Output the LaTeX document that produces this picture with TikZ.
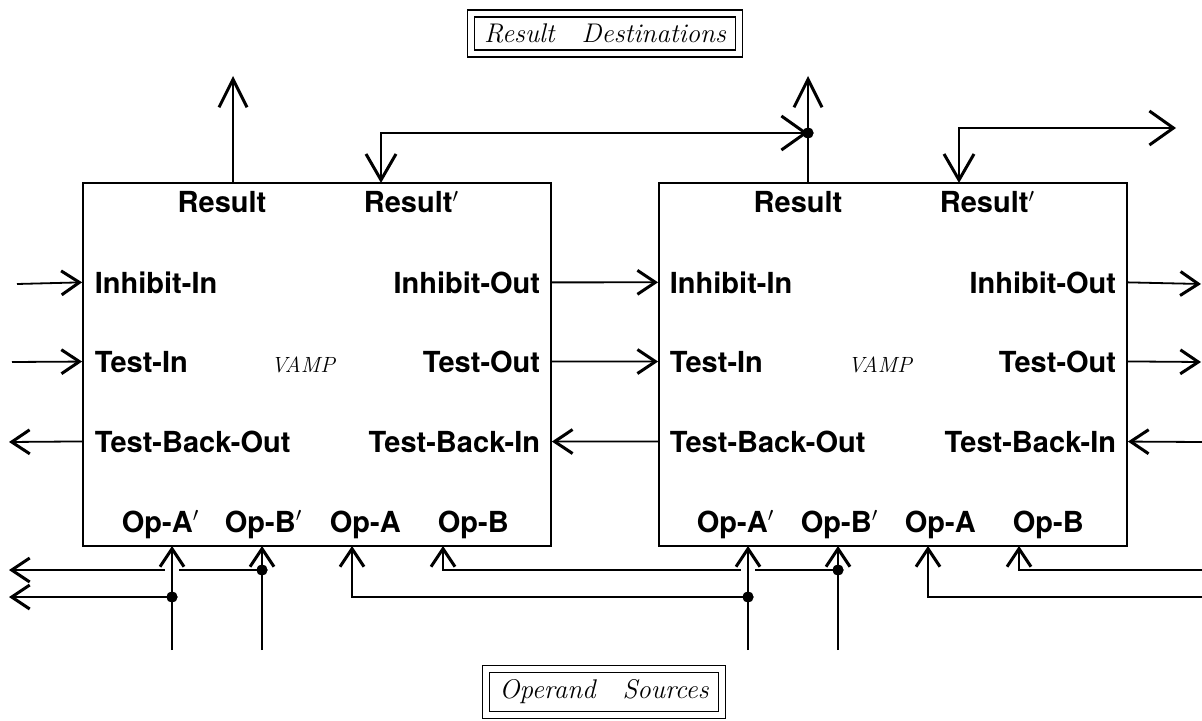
\documentclass[tikz,border=0pt]{standalone}
\usepackage{fontspec}
\setsansfont{TeX Gyre Heros}
\usetikzlibrary{arrows.meta}

\begin{document}
\begin{tikzpicture}[x=0.5pt,y=-0.5pt,line width=0.9pt,
    >={Straight Barb[length=9pt,width=12pt,line width=1.5pt]}]
      \tikzstyle{every node}=[inner sep=0pt]
      \tikzstyle{port}=[font=\sffamily\bfseries\fontsize{14.5}{17}\selectfont]
      \tikzstyle{vampname}=[font=\itshape\fontsize{11}{13}\selectfont]
      \tikzstyle{title}=[draw,double,line width=0.8pt,double distance=2.8pt,font=\itshape\fontsize{13.5}{15}\selectfont]
      \tikzstyle{vampbox}=[draw,minimum width=234pt,minimum height=181.5pt]
      \tikzstyle{dot}=[circle,fill,minimum size=5.5pt]
      \tikzstyle{bigtip}=[-{Straight Barb[length=14pt,width=14pt,line width=1.5pt]}]
      \tikzstyle{bigtips}=[{Straight Barb[length=13pt,width=15pt,line width=1.5pt]}-{Straight Barb[length=12pt,width=17pt,line width=1.5pt]}]
      \tikzstyle{gap}=[draw=white,line width=7pt]

      \useasboundingbox (0,0) rectangle (1202,721);

      \node[title,minimum width=134pt,minimum height=20pt] (dest) at (605,33.5) {Result\quad Destinations};
      \node[title,minimum width=118pt,minimum height=23pt] (src) at (604,692) {Operand\quad Sources};

      \node[vampbox] (v1) at (317,364.5) {};
      \node[vampbox] (v2) at (893,364.5) {};

      % first VAMP
      \node[port,anchor=base] (res1) at (222,213) {Result};
      \node[port,anchor=base west] (resp1) at (363,213) {Result$'$};
      \node[port,anchor=base west] (ihi1) at (94,293) {Inhibit-In};
      \node[port,anchor=base east] (iho1) at (541,293) {Inhibit-Out};
      \node[port,anchor=base west] (ti1) at (94,372) {Test-In};
      \node[vampname,anchor=base] (name1) at (303,372) {VAMP};
      \node[port,anchor=base east] (to1) at (541,372) {Test-Out};
      \node[port,anchor=base west] (tbo1) at (94,452) {Test-Back-Out};
      \node[port,anchor=base east] (tbi1) at (541,452) {Test-Back-In};
      \node[port,anchor=base west] (opap1) at (121,532) {Op-A$'$};
      \node[port,anchor=base west] (opbp1) at (224,532) {Op-B$'$};
      \node[port,anchor=base west] (opa1) at (329,532) {Op-A};
      \node[port,anchor=base west] (opb1) at (437,532) {Op-B};

      % second VAMP
      \node[port,anchor=base] (res2) at (798,213) {Result};
      \node[port,anchor=base west] (resp2) at (939,213) {Result$'$};
      \node[port,anchor=base west] (ihi2) at (669,293) {Inhibit-In};
      \node[port,anchor=base east] (iho2) at (1117,293) {Inhibit-Out};
      \node[port,anchor=base west] (ti2) at (669,372) {Test-In};
      \node[vampname,anchor=base] (name2) at (880,372) {VAMP};
      \node[port,anchor=base east] (to2) at (1117,372) {Test-Out};
      \node[port,anchor=base west] (tbo2) at (669,452) {Test-Back-Out};
      \node[port,anchor=base east] (tbi2) at (1117,452) {Test-Back-In};
      \node[port,anchor=base west] (opap2) at (696,532) {Op-A$'$};
      \node[port,anchor=base west] (opbp2) at (800,532) {Op-B$'$};
      \node[port,anchor=base west] (opa2) at (904,532) {Op-A};
      \node[port,anchor=base west] (opb2) at (1012,532) {Op-B};

      % ports on the box edges
      \coordinate (r1) at (233,183);
      \coordinate (rp1) at (381,183);
      \coordinate (r2) at (808,183);
      \coordinate (rp2) at (959,183);
      \coordinate (ap1) at (172,546);
      \coordinate (bp1) at (262,546);
      \coordinate (a1) at (352,546);
      \coordinate (b1) at (443,546);
      \coordinate (ap2) at (748,546);
      \coordinate (bp2) at (838,546);
      \coordinate (a2) at (928,546);
      \coordinate (b2) at (1019,546);

      % free ends
      \coordinate (r1up) at (233,76);
      \coordinate (r2up) at (808,76);
      \coordinate (rp2out) at (1176,128);
      \coordinate (ihin) at (17,284);
      \coordinate (tin) at (12,362);
      \coordinate (tbout) at (9,442);
      \coordinate (ihout) at (1201,284);
      \coordinate (tout) at (1201,362);
      \coordinate (tbin) at (1202,442);
      \coordinate (out1) at (9,570);
      \coordinate (out2) at (9,597);
      \coordinate (ap1src) at (172,650);
      \coordinate (bp1src) at (262,650);
      \coordinate (ap2src) at (748,650);
      \coordinate (bp2src) at (838,650);
      \coordinate (a2in) at (1202,597);
      \coordinate (b2in) at (1202,570);

      \node[dot] (jr) at (808,133) {};
      \node[dot] (ja1) at (172,597) {};
      \node[dot] (jb1) at (262,570) {};
      \node[dot] (ja2) at (748,597) {};
      \node[dot] (jb2) at (838,570) {};

      % results
      \draw[bigtip] (r1) -- (r1up);
      \draw[bigtip] (r2) -- (r2up);
      \draw[bigtips] (rp1) |- (jr.center);
      \draw[bigtips] (rp2) |- (rp2out);

      % inhibit and test chain
      \draw[->] (ihin) -- (v1.west |- ihi1);
      \draw[->] (v1.east |- iho1) -- (v2.west |- ihi2);
      \draw[->] (v2.east |- iho2) -- (ihout);
      \draw[->] (tin) -- (v1.west |- ti1);
      \draw[->] (v1.east |- to1) -- (v2.west |- ti2);
      \draw[->] (v2.east |- to2) -- (tout);
      \draw[->] (v1.west |- tbo1) -- (tbout);
      \draw[->] (v2.west |- tbo2) -- (v1.east |- tbi1);
      \draw[->] (tbin) -- (v2.east |- tbi2);

      % operands
      \draw[->] (jb1.center) -- (out1);
      \draw[->] (ja1.center) -- (out2);
      \draw[->] (ja2.center) -| (a1);
      \draw[->] (jb2.center) -| (b1);
      \draw[->] (a2in) -| (a2);
      \draw[->] (b2in) -| (b2);

      \draw[gap] (172,563) -- (172,577);
      \draw[gap] (748,563) -- (748,577);

      \draw[->] (ap1src) -- (ap1);
      \draw[->] (bp1src) -- (bp1);
      \draw[->] (ap2src) -- (ap2);
      \draw[->] (bp2src) -- (bp2);

      \node[dot] at (jr) {};
      \node[dot] at (ja1) {};
      \node[dot] at (jb1) {};
      \node[dot] at (ja2) {};
      \node[dot] at (jb2) {};

    \end{tikzpicture}
\end{document}
